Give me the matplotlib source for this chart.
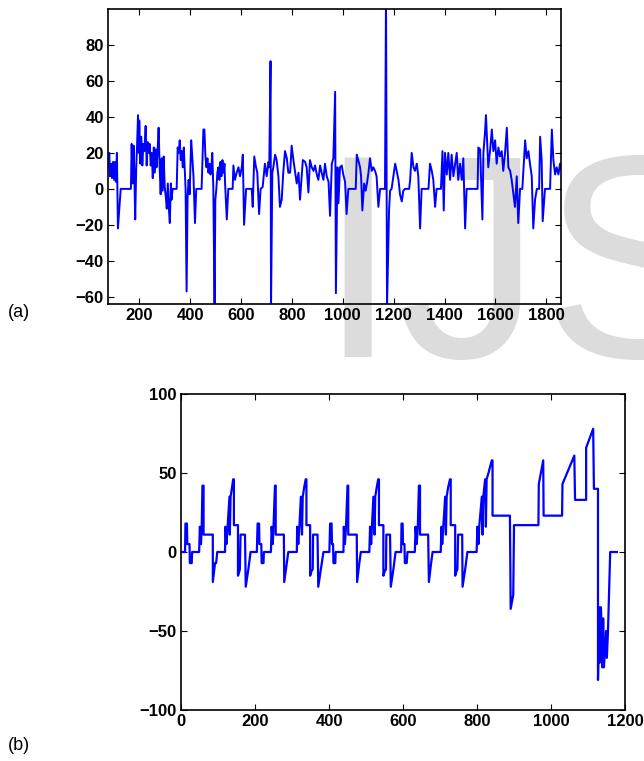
import matplotlib
matplotlib.use('Agg')
import matplotlib.pyplot as plt

plt.rcParams['font.family'] = ['Liberation Sans', 'DejaVu Sans']

# panel (a): noisy signal, vertices
a_x = [78, 82, 85, 89, 93, 97, 101, 105, 108, 112, 116, 127, 167, 170, 174, 178, 181, 184,
       188, 191, 195, 198, 200, 204, 208, 212, 216, 220, 225, 229, 233, 237, 241, 245, 249,
       253, 257, 261, 265, 268, 272, 276, 280, 284, 288, 292, 296, 300, 304, 308, 312, 316,
       320, 324, 327, 331, 347, 351, 355, 359, 363, 367, 371, 375, 379, 382, 386, 390, 394,
       398, 404, 407, 413, 419, 424, 445, 452, 456, 460, 464, 468, 472, 476, 480, 483, 487,
       491, 496, 499, 503, 507, 511, 515, 519, 523, 527, 531, 535, 537, 544, 550, 567, 570,
       576, 583, 590, 596, 603, 607, 612, 620, 642, 646, 652, 659, 664, 671, 677, 685, 694,
       701, 708, 711, 716, 718, 723, 727, 734, 740, 747, 753, 760, 766, 773, 780, 786, 793,
       799, 806, 812, 819, 826, 832, 843, 852, 858, 865, 871, 878, 885, 891, 898, 904, 911,
       917, 924, 930, 937, 944, 950, 957, 963, 970, 973, 979, 983, 989, 996, 1002, 1009,
       1015, 1022, 1051, 1055, 1061, 1068, 1072, 1077, 1084, 1090, 1095, 1101, 1107, 1114,
       1120, 1127, 1133, 1140, 1147, 1166, 1170, 1174, 1182, 1186, 1192, 1199, 1206, 1212,
       1219, 1225, 1232, 1238, 1245, 1261, 1265, 1271, 1278, 1284, 1291, 1297, 1304, 1310,
       1337, 1343, 1350, 1356, 1363, 1369, 1386, 1392, 1397, 1402, 1409, 1415, 1422, 1428,
       1435, 1442, 1448, 1454, 1461, 1468, 1474, 1481, 1487, 1530, 1533, 1540, 1544, 1549,
       1553, 1559, 1563, 1568, 1572, 1579, 1586, 1592, 1599, 1605, 1612, 1618, 1625, 1631,
       1638, 1645, 1651, 1658, 1664, 1671, 1677, 1684, 1690, 1697, 1706, 1717, 1723, 1730,
       1736, 1743, 1749, 1756, 1763, 1772, 1776, 1782, 1786, 1795, 1815, 1822, 1828, 1835,
       1841, 1848, 1854, 1861]
a_y = [12, 20, 7, 14, 6, 15, 5, 15, 4, 20, -22, 0, 0, 25, 3, 24, 5, -17,
       12, 23, 41, 20, 38, 14, 29, 13, 25, 21, 35, 13, 26, 20, 25, 13, 20,
       6, 23, 9, 22, 12, 21, 34, 12, -3, 17, -1, 18, 1, -4, -11, 3, -10,
       -19, 3, -6, 0, 0, 23, 20, 27, 16, 21, 12, 23, 10, 0, -57, -4, 5,
       -3, 27, 21, 7, -19, 0, 0, 33, 33, 18, 12, 17, 9, 14, 8, 11, 20,
       1, -66, -6, 0, 9, 12, 5, 15, 7, 16, 9, 14, 4, -17, 0, 0, 13,
       5, 9, 12, 7, 12, 19, -20, 0, 0, -10, 18, 12, 9, -14, 0, 1, 14,
       7, 15, 12, 71, -66, 9, 12, 19, 16, 7, -10, -6, 9, 21, 17, 9, 9,
       24, 16, 10, 3, 9, -6, 16, 15, 12, -2, 16, 12, 10, 13, 8, 5, 13,
       9, 5, 14, 7, 4, -15, 14, 17, 54, -58, 12, -8, 12, 13, 8, 4,
       -14, 0, 0, 19, 16, 12, 7, -12, 3, -1, 3, 9, 17, 10,
       12, 10, 7, -10, 0, 0, 110, -66, -12, -1, 0, 7, 14, 10,
       5, -3, -7, -1, 0, 0, 5, 20, 12, 10, 14, 7, -22, 0,
       0, 14, 10, 5, -10, 0, 0, 21, -12, 20, 8, 20, 5, 19,
       7, 14, 20, 5, 14, 5, 17, -22, 0, 0, 23, 22, 5, -17,
       20, 31, 41, 25, 12, 21, 33, 21, 27, 14, 23, 18, 21, 10,
       20, 34, 12, 10, 5, -3, -10, 7, -19, 0, 0, 27, 17, 21,
       14, 7, -22, -6, 0, 0, 29, 16, -18, 0, 0, 33, 16, 8,
       12, 8, 14, 10]

# panel (b): stepped signal
b_x = [0, 11, 12, 16, 17, 23, 24, 29, 30, 49, 51, 54, 56, 58, 61, 61, 86, 86, 92, 95, 98,
       119, 120, 123, 126, 131, 132, 134, 138, 141, 143, 143, 154, 154, 158, 159, 161, 173,
       175, 182, 188, 205,
       207, 211, 212, 217, 218, 223, 224, 243, 245, 248, 250, 254, 256, 256, 278, 279, 286,
       290, 313, 314, 317, 320, 324, 327, 329, 333, 337, 339, 339, 349, 349, 353, 356, 357,
       369, 371, 378, 385, 401,
       403, 407, 408, 411, 412, 417, 418, 439, 440, 443, 446, 450, 452, 452, 475, 476, 482,
       486, 509, 511, 514, 516, 520, 523, 525, 529, 533, 535, 535, 547, 547, 551, 554, 555,
       565, 567, 574, 580, 595,
       596, 599, 600, 604, 605, 610, 612, 632, 634, 637, 640, 643, 646, 646, 668, 670, 676,
       680, 702, 704, 706, 709, 714, 716, 718, 722, 727, 729, 729, 741, 741, 745, 747, 749,
       760, 761, 768, 774, 799,
       801, 804, 806, 813, 815, 817, 822, 824, 826, 831, 840, 842, 842, 889, 891, 898, 900,
       966, 967, 979, 980, 1030, 1031, 1063, 1065, 1095, 1095, 1114, 1116, 1127, 1127, 1131,
       1132, 1135, 1139, 1141, 1143, 1149, 1151, 1154, 1160, 1178]
b_y = [0, 0, 18, 18, 5, 5, -7, -7, 0, 0, 16, 5, 16, 42, 42, 11, 11, -19, -7, -7, 0,
       0, 16, 5, 16, 35, 11, 35, 41, 46, 46, 17, 17, -15, -12, -11, 11, 11,
       -22, -11, 0, 0,
       18, 18, 5, 5, -7, -7, 0, 0, 16, 5, 16, 42, 42, 11, 11, -19, -7,
       0, 0, 16, 5, 16, 35, 11, 35, 41, 46, 46, 17, 17, -15, -12, -11, 11,
       11, -22, -11, 0, 0,
       18, 18, 5, 5, -7, -7, 0, 0, 16, 5, 16, 42, 42, 11, 11, -19, -7,
       0, 0, 16, 5, 16, 35, 11, 35, 41, 46, 46, 17, 17, -15, -12, -11, 11,
       11, -22, -11, 0, 0,
       18, 18, 5, 5, -7, -7, 0, 0, 16, 5, 16, 42, 42, 11, 11, -19, -7,
       0, 0, 16, 5, 16, 35, 11, 35, 41, 46, 46, 17, 17, -15, -12, -11, 11,
       11, -22, -11, 0, 0,
       16, 5, 16, 35, 11, 35, 46, 16, 46, 50, 58, 58, 23, 23, -36, -27, 17,
       17, 43, 58, 23, 23, 43, 61, 33, 33, 66, 78, 40, 40, -81, -35,
       -70, -35, -73, -42, -73, -50, -67, -50, 0, 0]

a_xticks = [200, 400, 600, 800, 1000, 1200, 1400, 1600, 1800]
a_yticks = [-60, -40, -20, 0, 20, 40, 60, 80]
b_xticks = [0, 200, 400, 600, 800, 1000, 1200]
b_yticks = [-100, -50, 0, 50, 100]

fig = plt.figure(figsize=(6.44, 7.61), dpi=100, facecolor='white')

# light grey watermark behind everything
fig.text(317 / 644, 1 - 357 / 761, 'IJS', fontsize=208, color='#dcdcdc',
         ha='left', va='baseline', zorder=-5)

ax1 = fig.add_axes([108 / 644, 1 - 304 / 761, 453 / 644, 295 / 761])
ax2 = fig.add_axes([181 / 644, 1 - 710 / 761, 444 / 644, 316 / 761])

ax1.plot(a_x, a_y, color='#0000ff', linewidth=1.4)
ax1.set_xlim(77, 1858)
ax1.set_ylim(-64, 100)
ax1.set_xticks(a_xticks)
ax1.set_yticks(a_yticks)

ax2.plot(b_x, b_y, color='#0000ff', linewidth=1.6)
ax2.set_xlim(0, 1200)
ax2.set_ylim(-100, 100)
ax2.set_xticks(b_xticks)
ax2.set_yticks(b_yticks)

for ax in (ax1, ax2):
    ax.set_facecolor('none')
    for s in ax.spines.values():
        s.set_linewidth(1.2)
    ax.tick_params(direction='in', top=True, right=True, length=4, width=0.8,
                   labelsize=12, pad=3)
    for lab in ax.get_xticklabels() + ax.get_yticklabels():
        lab.set_fontweight('bold')

fig.text(8 / 644, 1 - 312 / 761, '(a)', fontsize=13, ha='left', va='center')
fig.text(8 / 644, 1 - 745 / 761, '(b)', fontsize=13, ha='left', va='center')

fig.savefig('out.png', dpi=100)
